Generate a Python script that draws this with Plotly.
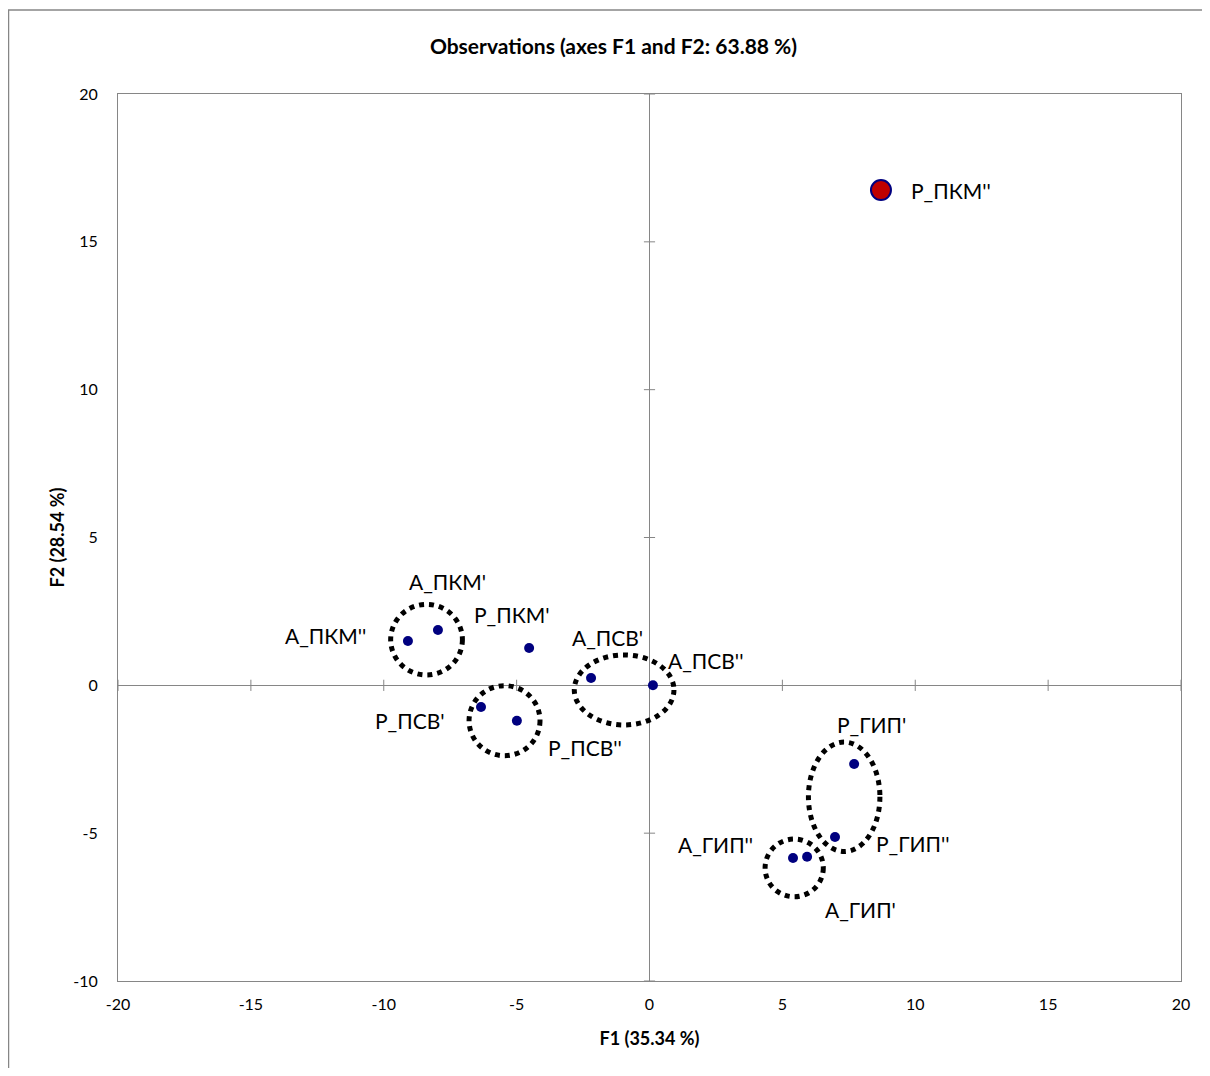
import plotly.graph_objects as go

# ---- data ----
labels = ["А_ПКМ''", "А_ПКМ'", "Р_ПКМ'", "А_ПСВ'", "А_ПСВ''", "Р_ПСВ'", "Р_ПСВ''",
          "Р_ГИП'", "Р_ГИП''", "А_ГИП''", "А_ГИП'"]
f1 = [-9.09, -7.96, -4.53, -2.20, 0.13, -6.34, -4.99, 7.70, 6.98, 5.40, 5.93]
f2 = [1.50, 1.87, 1.26, 0.25, 0.00, -0.73, -1.20, -2.66, -5.13, -5.84, -5.80]

hl_label = ["Р_ПКМ''"]
hl_f1 = [8.71]
hl_f2 = [16.75]

x_ticks = [-20, -15, -10, -5, 0, 5, 10, 15, 20]
y_ticks = [-10, -5, 0, 5, 10, 15, 20]

# label offsets (px) relative to their points
label_shift = {
    "А_ПКМ''": (-82, 5), "А_ПКМ'": (10, 49), "Р_ПКМ'": (-17, 34), "А_ПСВ'": (16, 40),
    "А_ПСВ''": (53, 25), "Р_ПСВ'": (-71, -14), "Р_ПСВ''": (68, -27),
    "Р_ГИП'": (17, 39), "Р_ГИП''": (78, -6), "А_ГИП''": (-78, 14), "А_ГИП'": (53, -53),
}

# ellipses (x0, x1, y0, y1) in data units
ellipses = [(-9.74, -7.04, 0.35, 2.74), (-6.79, -4.12, -2.38, -0.01),
            (-2.83, 0.92, -1.34, 1.03), (5.98, 8.67, -5.62, -1.92),
            (4.35, 6.54, -7.15, -5.20)]

FONT = "Lato, 'Open Sans', sans-serif"
AXC = "#868686"

W, H = 1194, 1060
ML, MR, MT, MB = 110, 21, 86, 87
PW, PH = W - ML - MR, H - MT - MB

fig = go.Figure()

# cross tick marks on the zero axes
tx, ty = [], []
for v in x_ticks:
    tx += [v, v, None]
    ty += [-0.19, 0.19, None]
for v in y_ticks:
    tx += [-0.21, 0.21, None]
    ty += [v, v, None]
fig.add_trace(go.Scatter(x=tx, y=ty, mode="lines", line=dict(color=AXC, width=1),
                         hoverinfo="skip", showlegend=False))

fig.add_trace(go.Scatter(x=f1, y=f2, mode="markers",
                         marker=dict(size=10, color="#00007F", line=dict(width=0)),
                         text=labels, showlegend=False))
fig.add_trace(go.Scatter(x=hl_f1, y=hl_f2, mode="markers",
                         marker=dict(size=20, color="#C00000",
                                     line=dict(width=2, color="#00007F")),
                         text=hl_label, showlegend=False))

for lab, x, y in zip(labels, f1, f2):
    dx, dy = label_shift[lab]
    fig.add_annotation(x=x, y=y, text=lab, showarrow=False, xshift=dx, yshift=dy,
                       font=dict(family=FONT, size=21, color="black"))
for lab, x, y in zip(hl_label, hl_f1, hl_f2):
    fig.add_annotation(x=x, y=y, text=lab, showarrow=False, xanchor="left", xshift=28,
                       font=dict(family=FONT, size=21, color="black"))

for x0, x1, y0, y1 in ellipses:
    fig.add_shape(type="circle", xref="x", yref="y", x0=x0, x1=x1, y0=y0, y1=y1,
                  line=dict(color="black", width=5, dash="dot"))

# outer chart border
fig.add_shape(type="rect", xref="paper", yref="paper",
              x0=(0.5 - ML) / PW, x1=(W + 30 - ML) / PW,
              y0=(MT + PH - H - 30) / PH, y1=(MT + PH - 2) / PH,
              line=dict(color=AXC, width=1.5), layer="below")

fig.update_layout(
    width=W, height=H,
    margin=dict(l=ML, r=MR, t=MT, b=MB),
    paper_bgcolor="white", plot_bgcolor="white",
    font=dict(family=FONT, color="black"),
    title=dict(text="<b>Observations (axes F1 and F2: 63.88 %)</b>", x=(ML + PW / 2 - 36 ) / W,
               xanchor="center", y=1 - 39 / H, yanchor="middle",
               font=dict(size=21, family=FONT)),
    xaxis=dict(range=[-20, 20], tickvals=x_ticks, ticktext=[str(v) for v in x_ticks],
               ticks="", showgrid=False,
               zeroline=True, zerolinecolor=AXC, zerolinewidth=1,
               showline=True, linecolor=AXC, linewidth=1, mirror=True,
               tickfont=dict(size=16), ticklabelstandoff=9,
               title=dict(text="<b>F1 (35.34 %)</b>", font=dict(size=18), standoff=20)),
    yaxis=dict(range=[-10, 20], tickvals=y_ticks, ticktext=[str(v) for v in y_ticks],
               ticks="", showgrid=False,
               zeroline=True, zerolinecolor=AXC, zerolinewidth=1,
               showline=True, linecolor=AXC, linewidth=1, mirror=True,
               tickfont=dict(size=16), ticklabelstandoff=16,
               title=dict(text="<b>F2 (28.54 %)</b>", font=dict(size=18), standoff=3)),
)

fig.write_html("out.html")
